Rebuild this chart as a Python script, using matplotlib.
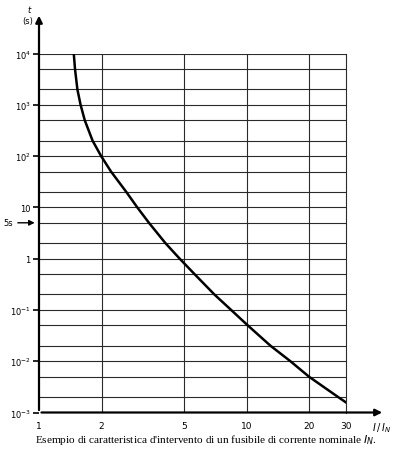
import matplotlib
matplotlib.use("Agg")
import matplotlib.pyplot as plt
from matplotlib.ticker import FixedLocator, NullLocator

# fuse trip characteristic: current ratio I/IN vs time t (s)
t_vals = [1e4, 5e3, 2e3, 1e3, 500, 200, 100, 50, 20, 10, 5, 2, 1,
          0.5, 0.2, 0.1, 0.05, 0.02, 0.01, 0.005, 0.002, 0.00157]
i_vals = [1.47, 1.49, 1.53, 1.585, 1.66, 1.81, 1.99, 2.22, 2.63, 2.97, 3.38, 4.06, 4.75,
          5.6, 6.98, 8.4, 10.1, 13.0, 16.2, 19.9, 27.5, 30.0]

x_ticks = [1, 2, 5, 10, 20, 30]
x_labels = ["1", "2", "5", "10", "20", "30"]
y_ticks = [1e4, 1e3, 1e2, 10, 1, 0.1, 0.01, 0.001]
y_labels = ["10$^4$", "10$^3$", "10$^2$", "10", "1", "10$^{-1}$", "10$^{-2}$", "10$^{-3}$"]
x_grid = [2, 5, 10, 20]
y_grid = [m * 10.0**e for e in range(-3, 4) for m in (1, 2, 5)] + [1e4]

W, H = 396, 452
fig = plt.figure(figsize=(W / 100, H / 100), dpi=100)
ax = fig.add_axes([39 / W, (H - 413.5) / H, 307 / W, 359 / H])
ax.set_xscale("log")
ax.set_yscale("log")
ax.set_xlim(1, 30)
ax.set_ylim(1e-3, 1e4)

gc = "#2a2a2a"
for g in y_grid:
    ax.axhline(g, color=gc, lw=0.8, zorder=1)
for g in x_grid:
    ax.axvline(g, color=gc, lw=0.8, zorder=1)

ax.plot(i_vals, t_vals, color="black", lw=1.8, zorder=3, solid_joinstyle="round")

for side in ("top", "left", "bottom"):
    ax.spines[side].set_visible(False)
ax.spines["right"].set_color(gc)
ax.spines["right"].set_linewidth(0.8)

ax.xaxis.set_major_locator(FixedLocator(x_ticks))
ax.xaxis.set_minor_locator(NullLocator())
ax.set_xticklabels(x_labels, fontsize=6.5)
ax.tick_params(axis="x", length=0, pad=6)
ax.yaxis.set_major_locator(FixedLocator(y_ticks))
ax.yaxis.set_minor_locator(NullLocator())
ax.set_yticklabels(y_labels, fontsize=6)
ax.tick_params(axis="y", length=4, width=1.2, direction="out", pad=2)

# axis arrows
ax.annotate("", xy=(0, 1.113), xytext=(0, -0.001), xycoords="axes fraction",
            arrowprops=dict(arrowstyle="-|>", color="black", lw=1.6, mutation_scale=10),
            annotation_clip=False)
ax.annotate("", xy=(1.127, 0), xytext=(-0.001, 0), xycoords="axes fraction",
            arrowprops=dict(arrowstyle="-|>", color="black", lw=1.6, mutation_scale=10),
            annotation_clip=False)

ax.text(-0.02, 1.11, "$t$\n(s)", transform=ax.transAxes, ha="right", va="center",
        fontsize=6, linespacing=1.2)
ax.text(1.085, -0.04, "$I\\,/\\,I_N$", transform=ax.transAxes, ha="left", va="center",
        fontsize=7)

# 5 s marker arrow
ax.annotate("", xy=(-0.005, 5), xytext=(-0.078, 5),
            xycoords=("axes fraction", "data"),
            arrowprops=dict(arrowstyle="-|>", color="black", lw=1.0, mutation_scale=8),
            annotation_clip=False)
ax.text(-0.085, 5, "5s", transform=ax.get_yaxis_transform(), ha="right", va="center",
        fontsize=6)

fig.text(35 / W, 1 - 440 / H,
         "Esempio di caratteristica d'intervento di un fusibile di corrente nominale $I_N$.",
         family="Liberation Serif", fontsize=8.1, ha="left", va="center")

fig.savefig("out.png", dpi=100)
